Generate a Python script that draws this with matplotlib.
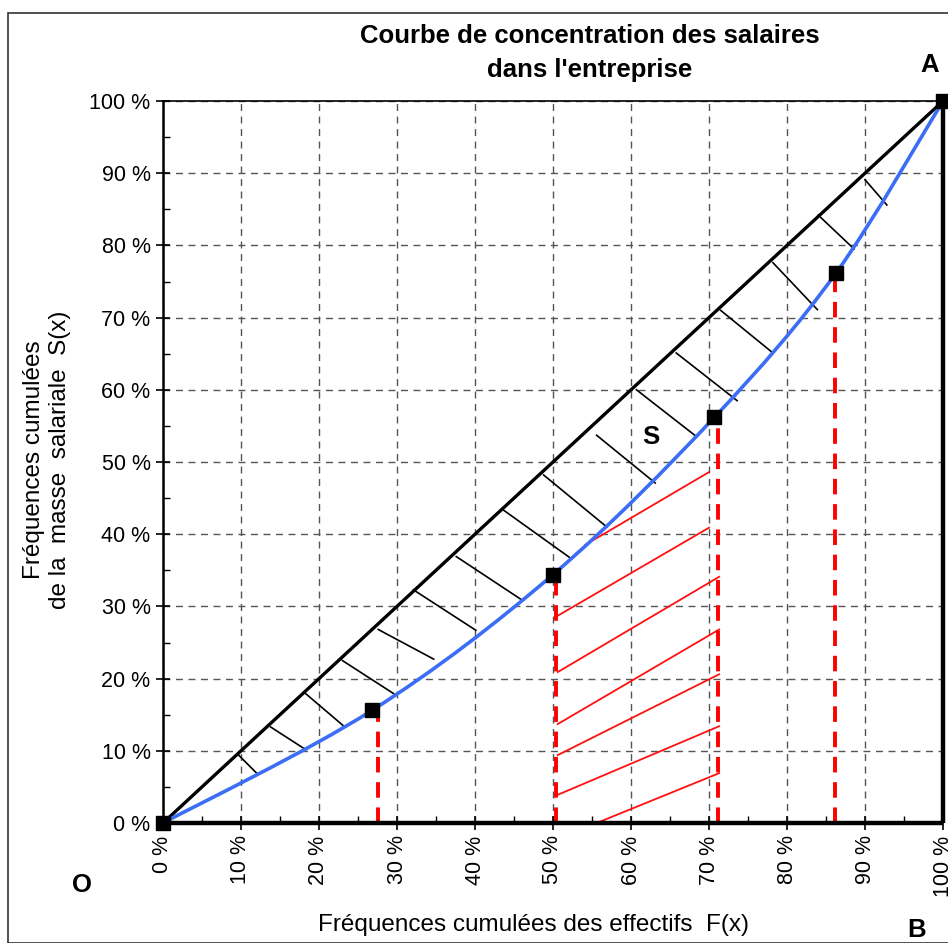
import matplotlib
matplotlib.use("Agg")
import matplotlib.pyplot as plt
from matplotlib.path import Path
from matplotlib.patches import PathPatch, Rectangle
from matplotlib.ticker import MultipleLocator, FuncFormatter

plt.rcParams['font.family'] = ['Liberation Sans', 'DejaVu Sans']

# Data: cumulative frequencies (%)
F = [0.0, 26.8, 50.0, 70.7, 86.3, 100.0]
S = [0.0, 15.6, 34.4, 56.2, 76.2, 100.0]

# red dashed drop lines
drop_x = [27.6, 50.4, 71.2, 86.2]
drop_y = [15.6, 34.4, 56.2, 76.2]

# black hatch segments in area between diagonal and curve (x1, y1, x2, y2)
black_hatch = [
    (9.7, 9.4, 12.1, 6.8), (13.8, 13.3, 18.1, 10.3), (18.2, 18.0, 23.2, 13.4),
    (23.0, 22.5, 29.6, 17.9), (27.6, 26.8, 34.7, 22.7), (32.1, 32.3, 40.1, 26.7),
    (37.6, 36.9, 46.0, 30.9), (43.7, 43.3, 52.1, 36.8), (48.8, 48.2, 56.9, 41.0),
    (55.6, 53.7, 63.1, 47.1), (60.7, 60.0, 68.3, 53.6), (65.8, 65.1, 73.6, 58.5),
    (71.5, 71.0, 78.2, 65.1), (78.2, 77.6, 83.9, 71.1), (84.0, 84.2, 88.6, 79.5),
    (90.0, 89.1, 92.8, 85.6),
]

# red hatch segments under the curve between 50% and 71%
red_hatch = [
    (54.1, 38.5, 70.0, 48.6), (50.6, 28.7, 70.0, 40.9), (50.6, 20.9, 71.3, 34.1),
    (50.6, 13.7, 71.3, 26.8), (50.6, 9.4, 71.3, 20.6), (50.6, 3.9, 71.3, 13.4),
    (55.6, 0.0, 71.3, 6.9),
]

W, H = 948, 943
fig = plt.figure(figsize=(W / 100, H / 100), dpi=100)
ax = fig.add_axes([163 / W, 1 - 823 / H, 780 / W, 722 / H])
ax.set_xlim(0, 100)
ax.set_ylim(0, 100)

# outer frame
fig.patches.append(Rectangle((8 / W, 0), 1.0, 1 - 13 / H, transform=fig.transFigure,
                             fill=False, edgecolor='#333333', linewidth=1.2))

# grid
ax.xaxis.set_major_locator(MultipleLocator(10))
ax.yaxis.set_major_locator(MultipleLocator(10))
ax.xaxis.set_minor_locator(MultipleLocator(5))
ax.yaxis.set_minor_locator(MultipleLocator(5))
ax.grid(True, which='major', color='#555555', linestyle=(0, (5, 4)), linewidth=1.0)
ax.set_axisbelow(True)

fmt = FuncFormatter(lambda v, p: f"{int(round(v))} %")
ax.xaxis.set_major_formatter(fmt)
ax.yaxis.set_major_formatter(fmt)
ax.tick_params(axis='both', which='major', direction='inout', length=10, width=1.2,
               labelsize=15.5, colors='black')
ax.tick_params(axis='both', which='minor', direction='in', length=5, width=1.0)
ax.tick_params(axis='y', which='major', pad=4)
ax.tick_params(axis='x', which='major', pad=4, labelrotation=90)

for lbl in ax.get_xticklabels():
    lbl.set_va('top')

for side in ['top', 'left']:
    ax.spines[side].set_color('black')
ax.spines['top'].set_linewidth(1.2)
ax.spines['left'].set_linewidth(1.8)
ax.spines['right'].set_visible(False)
ax.spines['bottom'].set_visible(False)

# thick O-B and A-B lines
ax.plot([0, 100], [0, 0], color='black', lw=3.2, zorder=4, clip_on=False, solid_capstyle='butt')
ax.plot([100, 100], [0, 100], color='black', lw=3.2, zorder=4, clip_on=False, solid_capstyle='butt')

# diagonal of equality
ax.plot([0, 100], [0, 100], color='black', lw=2.4, zorder=4, clip_on=False)

# hatches
for x1, y1, x2, y2 in black_hatch:
    ax.plot([x1, x2], [y1, y2], color='black', lw=1.2, zorder=3)
for x1, y1, x2, y2 in red_hatch:
    ax.plot([x1, x2], [y1, y2], color='#ff1010', lw=1.3, zorder=3)

# red dashed drop lines
for x, y in zip(drop_x, drop_y):
    ax.plot([x, x], [0, y], color='#ff0000', lw=2.8, linestyle=(0, (4, 2.5)), zorder=3)

# smoothed concentration curve (Bezier through the points)
pts = list(zip(F, S))
n = len(pts)
verts = [pts[0]]
codes = [Path.MOVETO]
for i in range(n - 1):
    p0 = pts[i - 1] if i > 0 else pts[i]
    p1 = pts[i]
    p2 = pts[i + 1]
    p3 = pts[i + 2] if i + 2 < n else pts[i + 1]
    c1 = (p1[0] + (p2[0] - p0[0]) / 6, p1[1] + (p2[1] - p0[1]) / 6)
    c2 = (p2[0] - (p3[0] - p1[0]) / 6, p2[1] - (p3[1] - p1[1]) / 6)
    verts += [c1, c2, p2]
    codes += [Path.CURVE4] * 3
ax.add_patch(PathPatch(Path(verts, codes), facecolor='none', edgecolor='#3b6ef5',
                       lw=2.6, zorder=5))

ax.plot(F, S, linestyle='none', marker='s', markersize=10.5, color='black',
        zorder=6, clip_on=False)

# labels
ax.text(62.5, 53.5, 'S', fontsize=18.5, fontweight='bold', ha='center', va='center')
fig.text(930 / W, 1 - 65 / H, 'A', fontsize=18.5, fontweight='bold', ha='center', va='center')
fig.text(82 / W, 1 - 885 / H, 'O', fontsize=18.5, fontweight='bold', ha='center', va='center')
fig.text(917 / W, 1 - 930 / H, 'B', fontsize=18.5, fontweight='bold', ha='center', va='center')

fig.text(590 / W, 1 - 53 / H, "Courbe de concentration des salaires\ndans l'entreprise",
         fontsize=18.5, fontweight='bold', ha='center', va='center', linespacing=1.5)

fig.text(533 / W, 1 - 925 / H, "Fréquences cumulées des effectifs  F(x)",
         fontsize=17.5, ha='center', va='center')
fig.text(47 / W, 1 - 460 / H, "Fréquences cumulées\nde la  masse  salariale  S(x)",
         fontsize=17.5, ha='center', va='center', rotation=90, linespacing=1.2)

fig.savefig('out.png', dpi=100, facecolor='white')
